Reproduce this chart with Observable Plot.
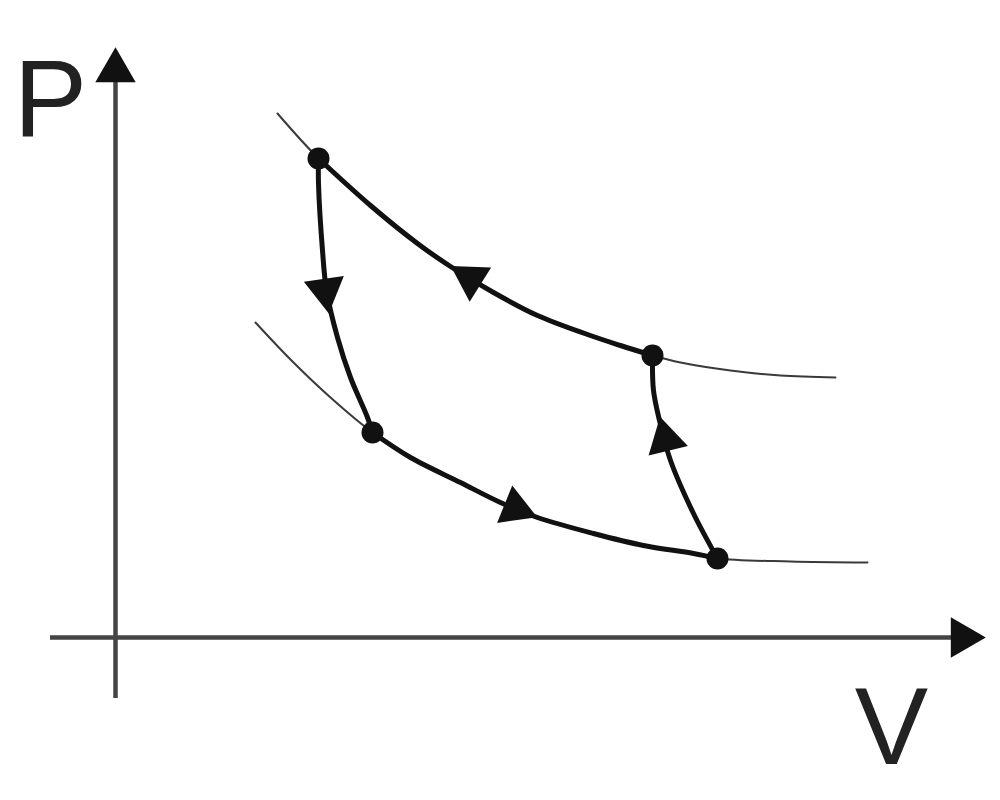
<!DOCTYPE html>
<html>
<head>
<meta charset="utf-8">
<script src="https://cdn.jsdelivr.net/npm/d3@7"></script>
<script src="https://cdn.jsdelivr.net/npm/@observablehq/plot@0.6"></script>
<style>
  html, body { margin: 0; padding: 0; background: #fff; overflow: hidden; }
  #chart svg { display: block; }
</style>
</head>
<body>
<div id="chart"></div>
<script>
// ---- Data (V, P) ----
// Upper (hot) isotherm, thin guide curve
const hotIsothermV = [16.2, 20.3, 25.5, 30.2, 33.5, 37.8, 42.2, 47.2, 50.5, 53.7, 56.5, 61.5, 66.5, 72.0];
const hotIsothermP = [52.4, 47.9, 43.2, 39.4, 37.1, 34.5, 32.2, 30.3, 29.2, 28.2, 27.5, 26.7, 26.2, 26.0];
// Lower (cold) isotherm, thin guide curve
const coldIsothermV = [14.0, 17.5, 21.5, 25.7, 29.5, 34.5, 38.5, 42.2, 47.8, 52.8, 57.8, 60.2, 67.5, 75.2];
const coldIsothermP = [31.5, 27.8, 24.0, 20.5, 18.0, 15.5, 13.5, 12.0, 10.4, 9.2, 8.4, 7.9, 7.6, 7.5];
// Cycle states
const stateNames = ["A", "B", "C", "D"];
const stateV = [20.3, 53.7, 60.2, 25.7];
const stateP = [47.9, 28.2, 7.9, 20.5];
// Leg A -> D
const legADV = [20.3, 20.3, 20.7, 21.1, 22.2, 23.5, 25.2, 25.7];
const legADP = [47.9, 45.4, 38.7, 34.7, 30.0, 26.0, 22.0, 20.5];
// Leg C -> B
const legCBV = [60.2, 57.8, 55.5, 54.4, 53.8, 53.7];
const legCBP = [7.9, 12.4, 17.7, 21.7, 24.7, 28.2];
// Direction arrowheads: position and heading (dV, dP)
const arrowV  = [21.0, 35.5, 40.0, 55.0];
const arrowP  = [34.7, 35.9, 12.9, 19.8];
const arrowDV = [0.5, -4.3, 3.35, -0.7];
const arrowDP = [-3.5, 2.7, -1.35, 2.9];
// Axes extents (tips) and labels
const axisV = [-6.5, 87.0];
const axisP = [-6.1, 59.0];
const axisLabels = ["P", "V"];
const axisLabelV = [-6.5, 77.6];
const axisLabelP = [50.2, -12.6];

// ---- Build tables ----
const zipVP = (vs, ps) => vs.map((v, i) => ({V: v, P: ps[i]}));
const hot = zipVP(hotIsothermV, hotIsothermP);
const cold = zipVP(coldIsothermV, coldIsothermP);
const states = stateNames.map((n, i) => ({name: n, V: stateV[i], P: stateP[i]}));
const S = Object.fromEntries(states.map(d => [d.name, d]));
const legBA = hot.filter(d => d.V >= S.A.V && d.V <= S.B.V);
const legDC = cold.filter(d => d.V >= S.D.V && d.V <= S.C.V);
const legAD = zipVP(legADV, legADP);
const legCB = zipVP(legCBV, legCBP);
const arrows = arrowV.map((v, i) => ({V: v, P: arrowP[i], rot: Math.atan2(arrowDV[i], arrowDP[i]) * 180 / Math.PI}));
const labels = axisLabels.map((t, i) => ({t, V: axisLabelV[i], P: axisLabelP[i]}));

const thin = {x: "V", y: "P", curve: "catmull-rom", stroke: "#3a3a3a", strokeWidth: 2};
const thick = {x: "V", y: "P", curve: "catmull-rom", stroke: "#111", strokeWidth: 5, strokeLinecap: "round"};

const chart = Plot.plot({
  width: 1000,
  height: 800,
  margin: 0,
  x: {domain: [-11.5, 88.5], axis: null},
  y: {domain: [-16.3, 63.7], axis: null},
  style: {background: "#fff", fontFamily: "'Liberation Sans', Arial, sans-serif"},
  marks: [
    // axes
    Plot.ruleY([0], {x1: axisV[0], x2: axisV[1] - 3, stroke: "#444", strokeWidth: 4.5}),
    Plot.ruleX([0], {y1: axisP[0], y2: axisP[1] - 3, stroke: "#444", strokeWidth: 4.5}),
    Plot.dot([{V: axisV[1], P: 0}], {x: "V", y: "P", symbol: "triangle", r: 15, rotate: 90, dx: -23, fill: "#111", stroke: "none"}),
    Plot.dot([{V: 0, P: axisP[1]}], {x: "V", y: "P", symbol: "triangle", r: 15, rotate: 0, dy: 23, fill: "#111", stroke: "none"}),
    Plot.text(labels, {x: "V", y: "P", text: "t", fontSize: 110, textAnchor: "middle", lineAnchor: "bottom", fill: "#222"}),
    // isotherms
    Plot.line(hot, thin),
    Plot.line(cold, thin),
    // cycle legs
    Plot.line(legBA, thick),
    Plot.line(legDC, thick),
    Plot.line(legAD, thick),
    Plot.line(legCB, thick),
    // arrowheads
    Plot.dot(arrows, {x: "V", y: "P", symbol: "triangle", r: 15, rotate: "rot", fill: "#111", stroke: "none"}),
    // states
    Plot.dot(states, {x: "V", y: "P", r: 11, fill: "#111", stroke: "none"})
  ]
});
document.getElementById("chart").appendChild(chart);
</script>
</body>
</html>
